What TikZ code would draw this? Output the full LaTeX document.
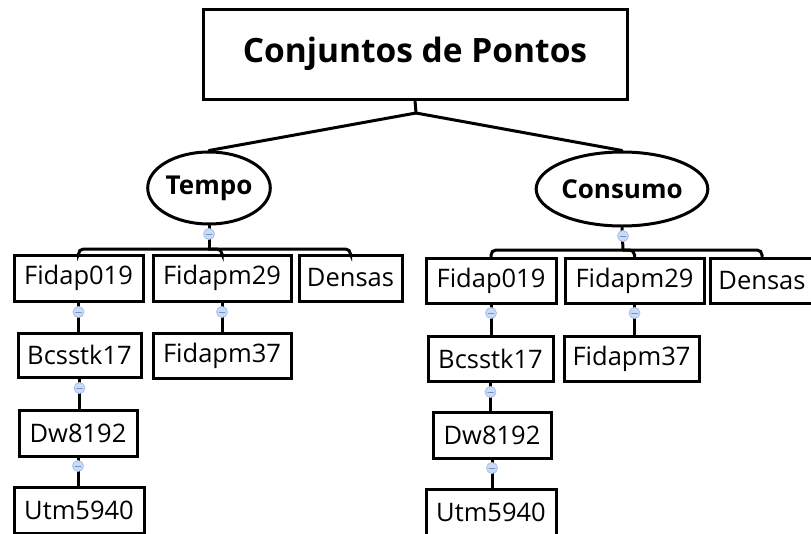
\documentclass[tikz,border=0pt]{standalone}
\usepackage{fontspec}
\setmainfont{Open Sans}
\usetikzlibrary{shapes.geometric}
\definecolor{foldfill}{HTML}{CADBF6}
\definecolor{foldedge}{HTML}{A8BFE8}
\definecolor{foldbar}{HTML}{7393CC}

\begin{document}
\begin{tikzpicture}[x=1pt,y=-1pt,line cap=round,
    box/.style={draw,fill=white,line width=3pt,inner sep=0pt,minimum height=46pt,font=\fontsize{25.5}{30}\selectfont},
    set/.style={draw,fill=white,ellipse,line width=3pt,inner sep=0pt,font=\bfseries\fontsize{26}{30}\selectfont},
    link/.style={line width=3pt},
    fold/.style={circle,draw=foldedge,fill=foldfill,line width=0.8pt,minimum size=11pt,inner sep=0pt,
      path picture={\draw[foldbar,line width=0.9pt] ([xshift=-2.8pt]path picture bounding box.center) -- ([xshift=2.8pt]path picture bounding box.center);}}]
    \useasboundingbox (0,0) rectangle (811,533);

    %/ Title
    \node[box,minimum width=424pt,minimum height=90pt,font=\bfseries\fontsize{33.5}{38}\selectfont] (title) at (415,54) {Conjuntos de Pontos};
    \node[set,minimum width=120pt,minimum height=72pt] (tempo) at (209,188) {Tempo};
    \node[set,minimum width=154pt,minimum height=74pt] (consumo) at (622,189) {Consumo};

    \coordinate (hub) at (416,113);
    \draw[link] (title.south) -- (hub);
    \draw[link] (hub) -- (tempo.north);
    \draw[link] (hub) -- (consumo.north);

    %/ Tempo
    \node[box,minimum width=129pt] (fidT) at (78.5,278) {Fidap019};
    \node[box,minimum width=138pt] (fpmT) at (222,278) {Fidapm29};
    \node[box,minimum width=103pt] (denT) at (350.5,278) {Densas};
    \node[box,minimum width=123pt,minimum height=44pt] (bcsT) at (79.5,355) {Bcsstk17};
    \node[box,minimum width=138pt,minimum height=45pt] (fpsT) at (222,355.5) {Fidapm37};
    \node[box,minimum width=118pt] (dwT) at (78,433) {Dw8192};
    \node[box,minimum width=130pt] (utmT) at (79,510) {Utm5940};

    \coordinate (barT) at (209,249);
    \draw[link] (tempo.south) -- (barT);
    \foreach \c in {fidT,fpmT,denT}
        \draw[link,rounded corners=5pt] (barT) -| (\c.north);
    \draw[link] (fidT.south) -- (fidT.south |- bcsT.north);
    \draw[link] (bcsT.south) -- (bcsT.south |- dwT.north);
    \draw[link] (dwT.south) -- (dwT.south |- utmT.north);
    \draw[link] (fpmT.south) -- (fpmT.south |- fpsT.north);

    %/ Consumo
    \node[box,minimum width=130pt,minimum height=45pt] (fidC) at (491,280.5) {Fidap019};
    \node[box,minimum width=139pt,minimum height=45pt] (fpmC) at (634.5,280.5) {Fidapm29};
    \node[box,minimum width=103pt,minimum height=45pt] (denC) at (762,280.5) {Densas};
    \node[box,minimum width=125pt,minimum height=45pt] (bcsC) at (490.5,358.5) {Bcsstk17};
    \node[box,minimum width=135pt,minimum height=45pt] (fpsC) at (631.5,358.5) {Fidapm37};
    \node[box,minimum width=118pt] (dwC) at (492,435) {Dw8192};
    \node[box,minimum width=130pt] (utmC) at (491,512) {Utm5940};

    \coordinate (barC) at (623,250);
    \draw[link] (consumo.south) -- (barC);
    \foreach \c in {fidC,fpmC,denC}
        \draw[link,rounded corners=5pt] (barC) -| (\c.north);
    \draw[link] (fidC.south) -- (fidC.south |- bcsC.north);
    \draw[link] (bcsC.south) -- (bcsC.south |- dwC.north);
    \draw[link] (dwC.south) -- (dwC.south |- utmC.north);
    \draw[link] (fpmC.south) -- (fpmC.south |- fpsC.north);

    %/ Fold markers
    \foreach \n/\x/\y in {foldT/209/234, foldTa/78.5/312, foldTb/222/312, foldTc/79.5/388, foldTd/78/466,
                          foldC/623/236, foldCa/491/313, foldCb/634.5/313, foldCc/490.5/392, foldCd/492/468}
        \node[fold] (\n) at (\x,\y) {};
\end{tikzpicture}
\end{document}
